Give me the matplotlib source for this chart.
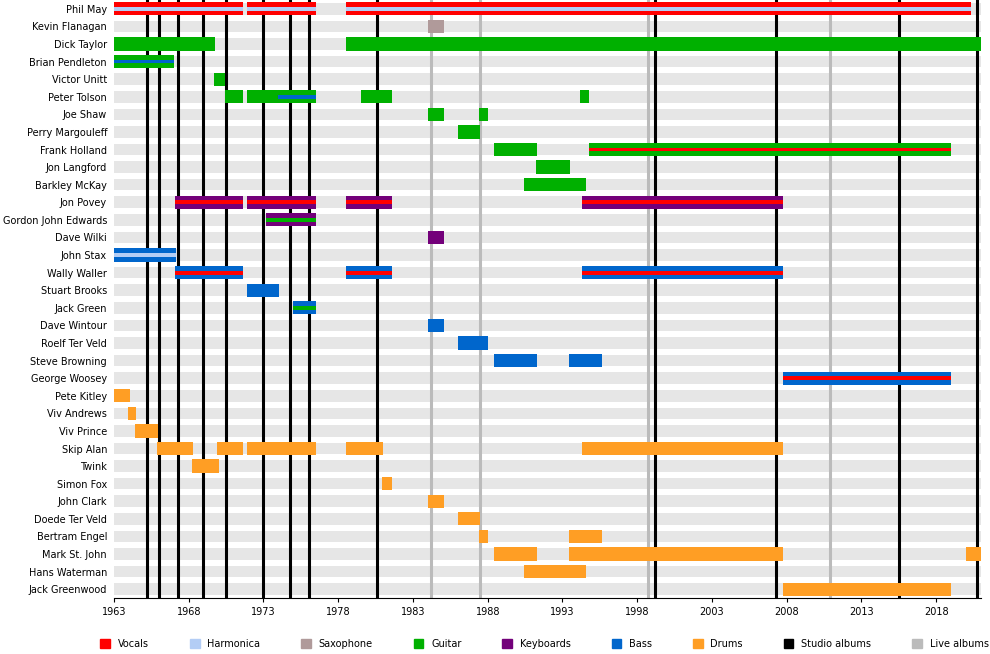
import matplotlib
matplotlib.use("Agg")
import matplotlib.pyplot as plt
from matplotlib.patches import Patch

members = ["Phil May","Kevin Flanagan","Dick Taylor","Brian Pendleton","Victor Unitt","Peter Tolson",
 "Joe Shaw","Perry Margouleff","Frank Holland","Jon Langford","Barkley McKay","Jon Povey",
 "Gordon John Edwards","Dave Wilki","John Stax","Wally Waller","Stuart Brooks","Jack Green",
 "Dave Wintour","Roelf Ter Veld","Steve Browning","George Woosey","Pete Kitley","Viv Andrews",
 "Viv Prince","Skip Alan","Twink","Simon Fox","John Clark","Doede Ter Veld","Bertram Engel",
 "Mark St. John","Hans Waterman","Jack Greenwood"]

colors = {"Vocals":"#ff0000","Harmonica":"#b3cdf5","Saxophone":"#b09a9a","Guitar":"#00b000",
          "Keyboards":"#73007a","Bass":"#0066cc","Drums":"#ff9e24"}

# (member, start, end, main instrument, stripe instrument or None)
spans = [
 ("Phil May",1963.0,1971.6,"Vocals","Harmonica"),("Phil May",1971.9,1976.5,"Vocals","Harmonica"),
 ("Phil May",1978.5,2020.3,"Vocals","Harmonica"),
 ("Kevin Flanagan",1984.0,1985.1,"Saxophone",None),
 ("Dick Taylor",1963.0,1969.75,"Guitar",None),("Dick Taylor",1978.5,2021.5,"Guitar",None),
 ("Brian Pendleton",1963.0,1967.0,"Guitar","Bass"),
 ("Victor Unitt",1969.7,1970.4,"Guitar",None),
 ("Peter Tolson",1970.4,1971.6,"Guitar",None),("Peter Tolson",1971.9,1974.0,"Guitar",None),
 ("Peter Tolson",1974.0,1976.5,"Guitar","Bass"),
 ("Peter Tolson",1979.5,1981.6,"Guitar",None),("Peter Tolson",1994.2,1994.8,"Guitar",None),
 ("Joe Shaw",1984.0,1985.1,"Guitar",None),("Joe Shaw",1987.4,1988.0,"Guitar",None),
 ("Perry Margouleff",1986.0,1987.5,"Guitar",None),
 ("Frank Holland",1988.4,1991.3,"Guitar",None),("Frank Holland",1994.8,2019.0,"Guitar","Vocals"),
 ("Jon Langford",1991.2,1993.5,"Guitar",None),
 ("Barkley McKay",1990.4,1994.6,"Guitar",None),
 ("Jon Povey",1967.1,1971.6,"Keyboards","Vocals"),("Jon Povey",1971.9,1976.5,"Keyboards","Vocals"),
 ("Jon Povey",1978.5,1981.6,"Keyboards","Vocals"),("Jon Povey",1994.3,2007.75,"Keyboards","Vocals"),
 ("Gordon John Edwards",1973.2,1976.5,"Keyboards","Guitar"),
 ("Dave Wilki",1984.0,1985.1,"Keyboards",None),
 ("John Stax",1963.0,1967.15,"Bass","Harmonica"),
 ("Wally Waller",1967.1,1971.6,"Bass","Vocals"),("Wally Waller",1978.5,1981.6,"Bass","Vocals"),
 ("Wally Waller",1994.3,2007.75,"Bass","Vocals"),
 ("Stuart Brooks",1971.9,1974.05,"Bass",None),
 ("Jack Green",1975.0,1976.5,"Bass","Guitar"),
 ("Dave Wintour",1984.0,1985.1,"Bass",None),
 ("Roelf Ter Veld",1986.0,1988.0,"Bass",None),
 ("Steve Browning",1988.4,1991.3,"Bass",None),("Steve Browning",1993.45,1995.65,"Bass",None),
 ("George Woosey",2007.75,2019.0,"Bass","Vocals"),
 ("Pete Kitley",1963.0,1964.1,"Drums",None),
 ("Viv Andrews",1963.95,1964.5,"Drums",None),
 ("Viv Prince",1964.4,1965.95,"Drums",None),
 ("Skip Alan",1965.9,1968.3,"Drums",None),("Skip Alan",1969.9,1971.6,"Drums",None),
 ("Skip Alan",1971.9,1976.5,"Drums",None),("Skip Alan",1978.5,1981.0,"Drums",None),
 ("Skip Alan",1994.3,2007.75,"Drums",None),
 ("Twink",1968.2,1970.0,"Drums",None),
 ("Simon Fox",1980.9,1981.6,"Drums",None),
 ("John Clark",1984.0,1985.1,"Drums",None),
 ("Doede Ter Veld",1986.0,1987.5,"Drums",None),
 ("Bertram Engel",1987.4,1988.0,"Drums",None),("Bertram Engel",1993.45,1995.65,"Drums",None),
 ("Mark St. John",1988.4,1991.3,"Drums",None),("Mark St. John",1993.45,2007.75,"Drums",None),
 ("Mark St. John",2020.0,2021.5,"Drums",None),
 ("Hans Waterman",1990.4,1994.55,"Drums",None),
 ("Jack Greenwood",2007.75,2019.0,"Drums",None),
]

studio_albums = [1965.2,1966.0,1967.3,1968.95,1970.5,1973.0,1974.8,1976.05,1980.6,1999.2,2007.3,2015.5,2020.7]
live_albums = [1984.2,1987.5,1998.7,2010.9]
xticks = [1963,1968,1973,1978,1983,1988,1993,1998,2003,2008,2013,2018]

fig = plt.figure(figsize=(9.9,6.54), dpi=100)
ax = fig.add_axes([114/990, 1-598/654, 867/990, 598/654])
n = len(members)
ypos = {m:i for i,m in enumerate(members)}
for i in range(n):
    ax.axhspan(i-0.33, i+0.33, color="#e6e6e6", zorder=0, lw=0)
for x in live_albums:
    ax.axvline(x, color="#bbbbbb", lw=2.2, zorder=1)
for x in studio_albums:
    ax.axvline(x, color="black", lw=2.2, zorder=1)
for m,s,e,ins,st in spans:
    y = ypos[m]
    ax.barh(y, e-s, left=s, height=0.75, color=colors[ins], zorder=2, lw=0)
    if st:
        ax.barh(y, e-s, left=s, height=0.22, color=colors[st], zorder=3, lw=0)
ax.set_xlim(1963, 2021.0)
ax.set_ylim(n-0.5, -0.5)
ax.set_yticks(range(n))
ax.set_yticklabels(members, fontsize=7)
ax.set_xticks(xticks)
ax.tick_params(axis='x', labelsize=7, length=3)
ax.tick_params(axis='y', length=0, pad=5)
for sp in ["top","right","left"]:
    ax.spines[sp].set_visible(False)

leg = [Patch(color=c, label=k) for k,c in colors.items()]
leg += [Patch(color="black", label="Studio albums"), Patch(color="#bbbbbb", label="Live albums")]
fig.legend(handles=leg, loc="lower center", ncol=9, fontsize=7, frameon=False,
           bbox_to_anchor=(0.55,-0.005), handlelength=1.0, handleheight=1.0, columnspacing=4.2)
fig.savefig("out.png", dpi=100)
